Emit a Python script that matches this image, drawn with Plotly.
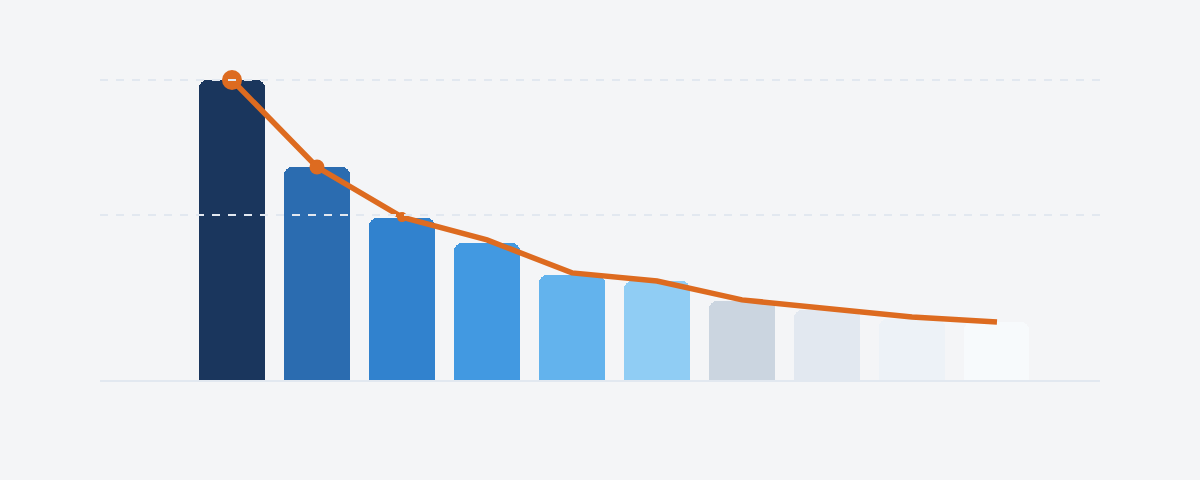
import plotly.graph_objects as go

# ---- data ----
categories = ["C1", "C2", "C3", "C4", "C5", "C6", "C7", "C8", "C9", "C10"]
bar_values = [100, 71, 54, 45.7, 35, 33, 26.3, 23.3, 20.3, 19.3]
line_values = [100, 71, 54.3, 46.7, 35.7, 33, 26.7, 23.7, 21, 19.3]
grid_values = [55, 100]

# ---- styles ----
bar_colors = ["#1A365D", "#2B6CB0", "#3182CE", "#4299E1", "#63B3ED",
              "#90CDF4", "#CBD5E0", "#E2E8F0", "#EDF2F7", "#F7FAFC"]
marker_sizes = [20, 15, 10, 0, 0, 0, 0, 0, 0, 0]
line_color = "#DD6B20"
grid_color = "#E2E8F0"
bg = "#F4F5F7"

xs = list(range(len(categories)))

fig = go.Figure()
fig.add_trace(go.Bar(x=xs, y=bar_values, width=0.765,
                     marker=dict(color=bar_colors, cornerradius=8, line=dict(width=0)),
                     hoverinfo="skip", showlegend=False))
fig.add_trace(go.Scatter(x=xs, y=line_values, mode="lines+markers",
                         line=dict(color=line_color, width=5.5),
                         marker=dict(size=marker_sizes, color=line_color,
                                     opacity=1, line=dict(width=0)),
                         cliponaxis=False, showlegend=False, hoverinfo="skip"))

# dashed grid lines drawn above the marks
for gv in grid_values:
    fig.add_shape(type="line", xref="paper", yref="y", x0=0, x1=1, y0=gv, y1=gv,
                  line=dict(color=grid_color, width=2, dash="8px,8px"), layer="above")

fig.update_layout(
    width=1200, height=480,
    paper_bgcolor=bg, plot_bgcolor=bg,
    margin=dict(l=100, r=100, t=65, b=100),
    bargap=0,
    showlegend=False,
    xaxis=dict(range=[-1.553, 10.212], showgrid=False, zeroline=False,
               showticklabels=False, showline=True, linecolor=grid_color,
               linewidth=2, ticks=""),
    yaxis=dict(range=[0, 105], showticklabels=False, showgrid=False,
               zeroline=False, showline=False, ticks=""),
)

fig.write_html("out.html", config={"displayModeBar": False},
               post_script="document.body.style.margin='0';")
